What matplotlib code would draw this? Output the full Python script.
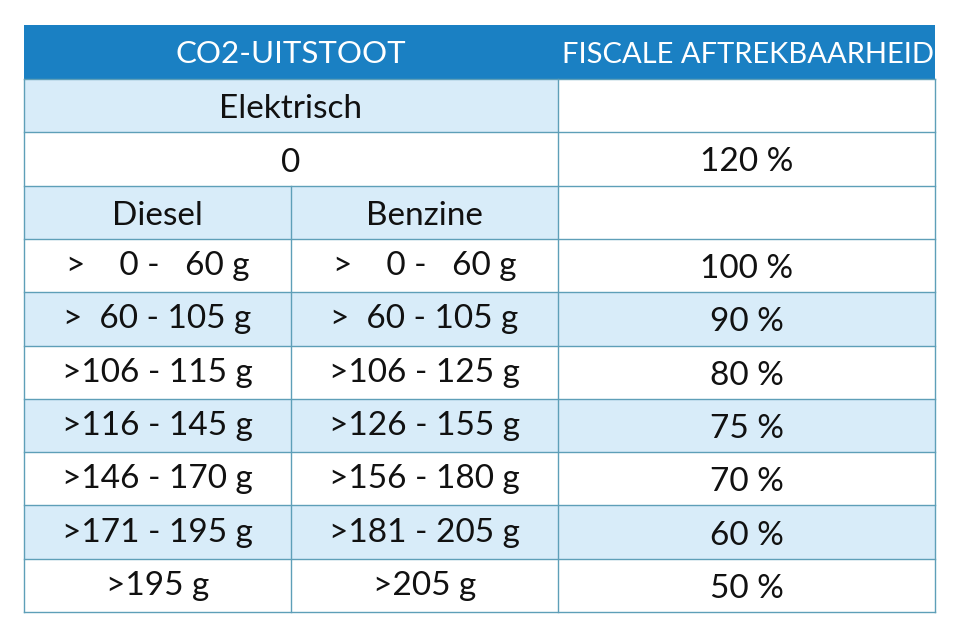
import matplotlib
matplotlib.use("Agg")
import matplotlib.pyplot as plt
from matplotlib.patches import Rectangle

# ---- data ----
header = ["CO2-UITSTOOT", "FISCALE AFTREKBAARHEID"]
elektrisch_label = "Elektrisch"
elektrisch_value = "0"
elektrisch_aftrek = "120 %"
fuel_types = ["Diesel", "Benzine"]
diesel = [">    0 -   60 g", ">  60 - 105 g", ">106 - 115 g", ">116 - 145 g",
          ">146 - 170 g", ">171 - 195 g", ">195 g"]
benzine = [">    0 -   60 g", ">  60 - 105 g", ">106 - 125 g", ">126 - 155 g",
           ">156 - 180 g", ">181 - 205 g", ">205 g"]
aftrek = ["100 %", "90 %", "80 %", "75 %", "70 %", "60 %", "50 %"]

# ---- layout / style ----
BLUE = "#1a80c3"
LIGHT = "#d8ecf9"
LINE = "#5e9fb8"
FONT = "Lato"
x0, x1, x2, x3 = 24, 291, 558, 935
top = 25
head_h = 54
row_h = 53.3

fig = plt.figure(figsize=(9.6, 6.4), dpi=100)
ax = fig.add_axes([0, 0, 1, 1])
ax.set_xlim(0, 960)
ax.set_ylim(640, 0)
ax.axis("off")

def rect(xa, xb, ya, yb, color):
    ax.add_patch(Rectangle((xa, ya), xb - xa, yb - ya, facecolor=color,
                           edgecolor="none", zorder=1))

def txt(x, y, s, size=24, color="#111111"):
    ax.text(x, y, s, ha="center", va="baseline", fontsize=size, color=color,
            family=[FONT, "DejaVu Sans"], zorder=3)

# header
hc = top + head_h / 2
rect(x0, x3, top, top + head_h, BLUE)
txt((x0 + x2) / 2, hc + 11, header[0], size=22.5, color="white")
txt((x2 + x3) / 2 + 1, hc + 11, header[1], size=21, color="white")

n_rows = 3 + len(diesel)
ys = [top + head_h + i * row_h for i in range(n_rows + 1)]

# Elektrisch row
rect(x0, x2, ys[0], ys[1], LIGHT)
txt((x0 + x2) / 2, (ys[0] + ys[1]) / 2 + 12.5, elektrisch_label)
# 0 row
txt((x0 + x2) / 2, (ys[1] + ys[2]) / 2 + 13, elektrisch_value)
txt((x2 + x3) / 2, (ys[1] + ys[2]) / 2 + 12, elektrisch_aftrek)
# fuel row
rect(x0, x2, ys[2], ys[3], LIGHT)
txt((x0 + x1) / 2, (ys[2] + ys[3]) / 2 + 12.5, fuel_types[0])
txt((x1 + x2) / 2, (ys[2] + ys[3]) / 2 + 12.5, fuel_types[1])

for i, (d, b, a) in enumerate(zip(diesel, benzine, aftrek)):
    ya, yb = ys[3 + i], ys[4 + i]
    if i % 2 == 1:
        rect(x0, x3, ya, yb, LIGHT)
    yc = (ya + yb) / 2
    txt((x0 + x1) / 2, yc + 9.5, d)
    txt((x1 + x2) / 2, yc + 9.5, b)
    txt((x2 + x3) / 2, yc + 12.5, a)

# grid lines
lw = 1.0
for y in ys:
    ax.plot([x0, x3], [y, y], color=LINE, lw=lw, zorder=2)
for x in (x0, x2, x3):
    ax.plot([x, x], [ys[0], ys[-1]], color=LINE, lw=lw, zorder=2)
ax.plot([x1, x1], [ys[2], ys[-1]], color=LINE, lw=lw, zorder=2)

fig.savefig("out.png", dpi=100, facecolor="white")
